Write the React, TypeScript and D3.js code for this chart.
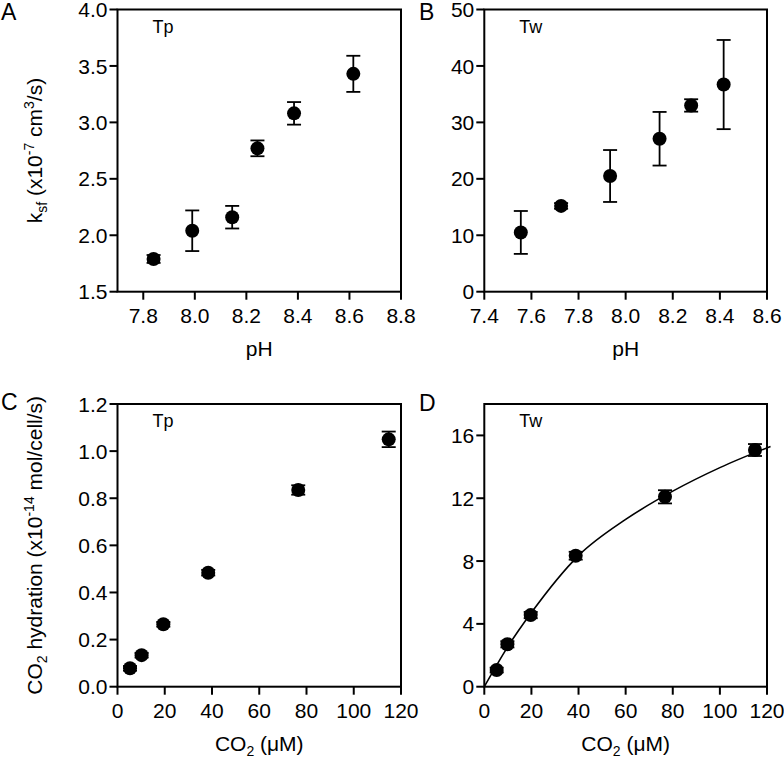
import React from "react";
import * as d3 from "d3";

// ---- Data ----
const phTp = [7.84, 7.99, 8.145, 8.243, 8.385, 8.615];
const ksfTp = [1.79, 2.04, 2.16, 2.77, 3.08, 3.43];
const ksfTpErr = [0.035, 0.18, 0.1, 0.07, 0.1, 0.16];

const phTw = [7.555, 7.726, 7.934, 8.144, 8.278, 8.416];
const ksfTw = [10.5, 15.2, 20.5, 27.1, 33.0, 36.7];
const ksfTwErr = [3.8, 0.5, 4.6, 4.75, 1.1, 7.9];

const co2Tp = [5.3, 10.2, 19.4, 38.4, 76.5, 114.8];
const hydTp = [0.078, 0.134, 0.265, 0.484, 0.835, 1.05];
const hydTpErr = [0.01, 0.01, 0.01, 0.012, 0.02, 0.033];

const co2Tw = [5.25, 9.8, 19.7, 38.8, 76.7, 114.9];
const hydTw = [1.06, 2.7, 4.56, 8.34, 12.09, 15.07];
const hydTwErr = [0.15, 0.2, 0.2, 0.25, 0.42, 0.38];

const fitCo2 = [0, 10, 20, 40, 60, 80, 100, 121.5];
const fitHyd = [0, 2.55, 4.72, 8.35, 10.65, 12.45, 13.95, 15.3];

const ticksPhA = [7.8, 8.0, 8.2, 8.4, 8.6, 8.8];
const ticksKsfA = [1.5, 2.0, 2.5, 3.0, 3.5, 4.0];
const ticksPhB = [7.4, 7.6, 7.8, 8.0, 8.2, 8.4, 8.6];
const ticksKsfB = [0, 10, 20, 30, 40, 50];
const ticksCo2 = [0, 20, 40, 60, 80, 100, 120];
const ticksHydC = [0, 0.2, 0.4, 0.6, 0.8, 1.0, 1.2];
const ticksHydD = [0, 4, 8, 12, 16];

const FONT = "'Liberation Sans', Arial, Helvetica, sans-serif";

type PanelProps = {
  x0: number; x1: number; y0: number; y1: number;
  xDomain: [number, number]; yDomain: [number, number];
  xTicks: number[]; yTicks: number[];
  xFmt: (v: number) => string; yFmt: (v: number) => string;
  xs: number[]; ys: number[]; errs: number[];
  tag: string; letter: string; lx: number; ly: number;
  fit?: { xs: number[]; ys: number[] };
};

function Panel(p: PanelProps) {
  const xs = d3.scaleLinear().domain(p.xDomain).range([p.x0, p.x1]);
  const ys = d3.scaleLinear().domain(p.yDomain).range([p.y1, p.y0]);
  const tick = 8;
  const cap = 7;
  let fitPath: string | null = null;
  if (p.fit) {
    const pts = p.fit.xs.map((v, i) => [v, p.fit!.ys[i]] as [number, number]);
    fitPath = d3
      .line<[number, number]>()
      .x((d) => xs(d[0]))
      .y((d) => ys(d[1]))
      .curve(d3.curveMonotoneX)(pts);
  }
  return (
    <g>
      <rect x={p.x0} y={p.y0} width={p.x1 - p.x0} height={p.y1 - p.y0} fill="none" stroke="#000" strokeWidth={2} />
      {p.xTicks.map((t) => (
        <g key={"x" + t}>
          <line x1={xs(t)} x2={xs(t)} y1={p.y1} y2={p.y1 + tick} stroke="#000" strokeWidth={2} />
          <text x={xs(t)} y={p.y1 + 31} textAnchor="middle" fontSize={21} fontFamily={FONT}>
            {p.xFmt(t)}
          </text>
        </g>
      ))}
      {p.yTicks.map((t) => (
        <g key={"y" + t}>
          <line x1={p.x0 - tick} x2={p.x0} y1={ys(t)} y2={ys(t)} stroke="#000" strokeWidth={2} />
          <text x={p.x0 - 10} y={ys(t)} dy="0.36em" textAnchor="end" fontSize={21} fontFamily={FONT}>
            {p.yFmt(t)}
          </text>
        </g>
      ))}
      {fitPath && <path d={fitPath} fill="none" stroke="#000" strokeWidth={1.6} />}
      {p.xs.map((v, i) => {
        const cx = xs(v);
        const top = ys(p.ys[i] + p.errs[i]);
        const bot = ys(p.ys[i] - p.errs[i]);
        return (
          <g key={"e" + i}>
            <line x1={cx} x2={cx} y1={top} y2={bot} stroke="#000" strokeWidth={1.8} />
            <line x1={cx - cap} x2={cx + cap} y1={top} y2={top} stroke="#000" strokeWidth={1.8} />
            <line x1={cx - cap} x2={cx + cap} y1={bot} y2={bot} stroke="#000" strokeWidth={1.8} />
          </g>
        );
      })}
      {p.xs.map((v, i) => (
        <circle key={"c" + i} cx={xs(v)} cy={ys(p.ys[i])} r={7} fill="#000" />
      ))}
      <text x={p.x0 + 35} y={p.y0 + 23} fontSize={18} fontFamily={FONT}>
        {p.tag}
      </text>
      <text x={p.lx} y={p.ly} fontSize={23} fontFamily={FONT}>
        {p.letter}
      </text>
    </g>
  );
}

export default function App() {
  const f1 = d3.format(".1f");
  const f0 = d3.format("d");
  const L1 = 117.5, R1 = 401, L2 = 484.3, R2 = 767;
  const T1 = 9.5, B1 = 291.7, T2 = 404, B2 = 686.7;
  return (
    <svg width={784} height={767} style={{ display: "block", position: "absolute", left: 0, top: 0 }}>
      <rect width={784} height={767} fill="#fff" />
      <Panel x0={L1} x1={R1} y0={T1} y1={B1} xDomain={[7.7, 8.8]} yDomain={[1.5, 4.0]}
        xTicks={ticksPhA} yTicks={ticksKsfA} xFmt={f1} yFmt={f1}
        xs={phTp} ys={ksfTp} errs={ksfTpErr} tag="Tp" letter="A" lx={1} ly={20} />
      <Panel x0={L2} x1={R2} y0={T1} y1={B1} xDomain={[7.4, 8.6]} yDomain={[0, 50]}
        xTicks={ticksPhB} yTicks={ticksKsfB} xFmt={f1} yFmt={f0}
        xs={phTw} ys={ksfTw} errs={ksfTwErr} tag="Tw" letter="B" lx={419} ly={20} />
      <Panel x0={L1} x1={R1} y0={T2} y1={B2} xDomain={[0, 120]} yDomain={[0, 1.2]}
        xTicks={ticksCo2} yTicks={ticksHydC} xFmt={f0} yFmt={f1}
        xs={co2Tp} ys={hydTp} errs={hydTpErr} tag="Tp" letter="C" lx={1} ly={410} />
      <Panel x0={L2} x1={R2} y0={T2} y1={B2} xDomain={[0, 120]} yDomain={[0, 18]}
        xTicks={ticksCo2} yTicks={ticksHydD} xFmt={f0} yFmt={f0}
        xs={co2Tw} ys={hydTw} errs={hydTwErr} tag="Tw" letter="D" lx={419} ly={411}
        fit={{ xs: fitCo2, ys: fitHyd }} />

      {/* axis titles */}
      <text x={(L1 + R1) / 2} y={356} textAnchor="middle" fontSize={21} fontFamily={FONT}>pH</text>
      <text x={(L2 + R2) / 2} y={356} textAnchor="middle" fontSize={21} fontFamily={FONT}>pH</text>
      {[(L1 + R1) / 2, (L2 + R2) / 2].map((cx, i) => (
        <text key={"co2" + i} x={cx} y={751} textAnchor="middle" fontSize={21} fontFamily={FONT}>
          CO<tspan dy={5} fontSize={14}>2</tspan><tspan dy={-5}> (μM)</tspan>
        </text>
      ))}
      <text transform={`translate(42,${(T1 + B1) / 2}) rotate(-90)`} textAnchor="middle" fontSize={21} fontFamily={FONT}>
        k<tspan dy={5} fontSize={14}>sf</tspan>
        <tspan dy={-5}> (x10</tspan>
        <tspan dy={-8} fontSize={14}>-7</tspan>
        <tspan dy={8}> cm</tspan>
        <tspan dy={-8} fontSize={14}>3</tspan>
        <tspan dy={8}>/s)</tspan>
      </text>
      <text transform={`translate(42,${(T2 + B2) / 2}) rotate(-90)`} textAnchor="middle" fontSize={21} fontFamily={FONT}>
        CO<tspan dy={5} fontSize={14}>2</tspan>
        <tspan dy={-5}> hydration (x10</tspan>
        <tspan dy={-8} fontSize={14}>-14</tspan>
        <tspan dy={8}> mol/cell/s)</tspan>
      </text>
    </svg>
  );
}
